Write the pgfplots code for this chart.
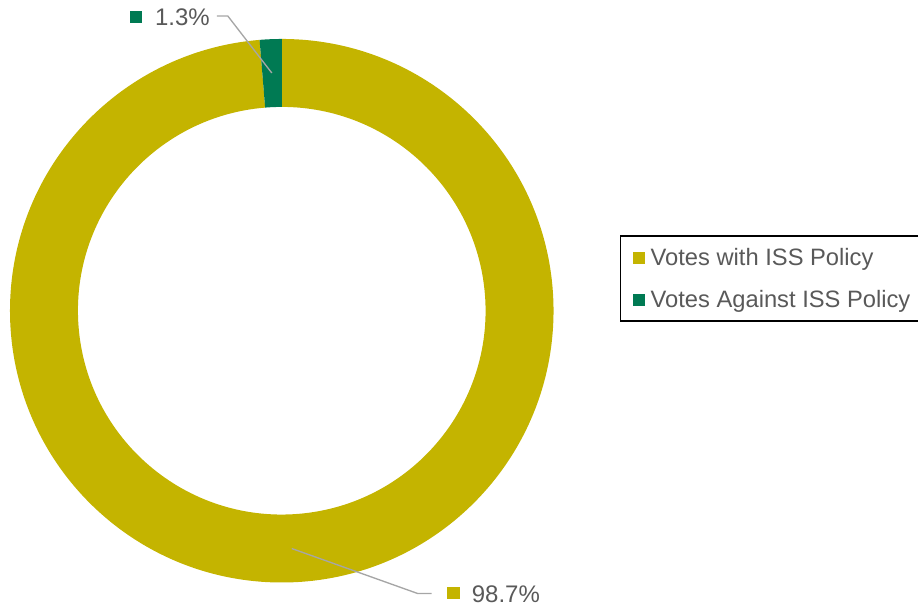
\documentclass[border=0pt]{standalone}
\usepackage{pgfplots}
\pgfplotsset{compat=1.18}
\usepackage{fontspec}
\setmainfont{Liberation Sans}
\definecolor{ylw}{RGB}{196,180,0}
\definecolor{grn}{RGB}{0,122,83}
\definecolor{txt}{RGB}{89,89,89}
\definecolor{lead}{RGB}{166,166,166}
% data (percent of votes)
\def\vWith{98.7}
\def\vAgainst{1.3}
\pgfmathsetmacro{\aStart}{90}
\pgfmathsetmacro{\aMid}{90-\vWith*3.6}
\pgfmathsetmacro{\aEnd}{\aMid-\vAgainst*3.6}
\begin{document}
\begin{tikzpicture}
\begin{axis}[x=0.75pt,y=0.75pt,xmin=0,xmax=919,ymin=0,ymax=608,hide axis,clip=false]
\path (axis cs:0,0) rectangle (axis cs:919,608);
% donut segments (center 282,297; outer r 272px = 204pt; inner r 204px = 153pt)
\fill[ylw] (axis cs:282,297) ++(\aStart:204pt) arc[start angle=\aStart,end angle=\aMid,radius=204pt]
  -- ++(\aMid:-51pt) arc[start angle=\aMid,end angle=\aStart,radius=153pt] -- cycle;
\fill[grn] (axis cs:282,297) ++(\aMid:204pt) arc[start angle=\aMid,end angle=\aEnd,radius=204pt]
  -- ++(\aEnd:-51pt) arc[start angle=\aEnd,end angle=\aMid,radius=153pt] -- cycle;
% leader lines
\draw[lead, line width=1pt] (axis cs:217,592) -- (axis cs:228,592) -- (axis cs:272,535);
\draw[lead, line width=1pt] (axis cs:292,59) -- (axis cs:418,14) -- (axis cs:432,14);
% data labels
\fill[grn] (axis cs:130,585) rectangle (axis cs:142,597);
\node[anchor=base west, inner sep=0, text=txt, font=\fontsize{18}{21}\selectfont] at (axis cs:155,582) {1.3\%};
\fill[ylw] (axis cs:447,8) rectangle (axis cs:460,20);
\node[anchor=base west, inner sep=0, text=txt, font=\fontsize{18}{21}\selectfont] at (axis cs:472,5) {98.7\%};
% legend
\draw[black, line width=1.2pt] (axis cs:919,372) -- (axis cs:621,372) -- (axis cs:621,287) -- (axis cs:919,287);
\fill[ylw] (axis cs:634,344) rectangle (axis cs:646,356);
\node[anchor=base west, inner sep=0, text=txt, font=\fontsize{17.8}{20}\selectfont] at (axis cs:651,342.3) {Votes with ISS Policy};
\fill[grn] (axis cs:634,302) rectangle (axis cs:646,314);
\node[anchor=base west, inner sep=0, text=txt, font=\fontsize{17.8}{20}\selectfont] at (axis cs:651,300.3) {Votes Against ISS Policy};
\end{axis}
\end{tikzpicture}
\end{document}
